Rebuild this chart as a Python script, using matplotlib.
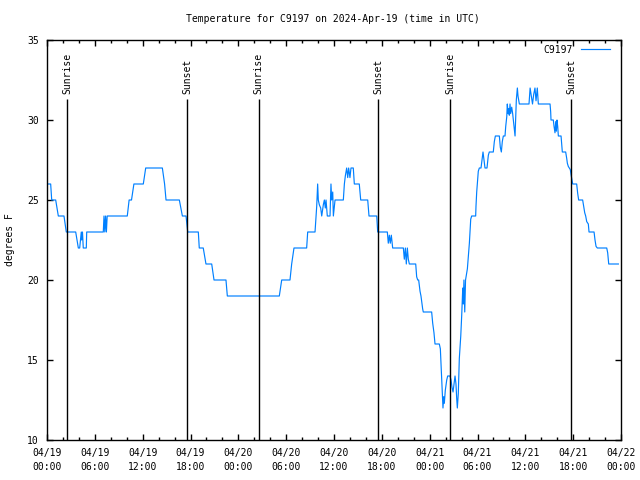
import datetime as dt
import matplotlib
matplotlib.use('Agg')
import matplotlib.pyplot as plt
import matplotlib.dates as mdates

start = dt.datetime(2024, 4, 19)

# hours after 04/19 00:00 UTC and temperature (deg F)
day1_hours = [0.0, 0.46, 0.59, 1.09, 1.42, 2.13, 2.42, 3.6, 3.93, 4.1, 4.3, 4.35,
              4.45, 4.55, 4.93, 4.98, 7.06, 7.15, 7.25, 7.35, 7.45, 7.55, 7.9,
              10.07, 10.3, 10.6, 10.9, 12.08, 12.38, 14.47, 14.75, 14.93, 16.6,
              16.98, 17.44, 17.65, 18.98, 19.1, 19.6, 19.94, 20.66, 20.95, 22.45,
              22.62]
day1_temps = [26, 26, 25, 25, 24, 24, 23, 23, 22, 22, 23, 22.5,
              23, 22, 22, 23, 23, 24, 23, 24, 23, 24, 24,
              24, 25, 25, 26, 26, 27, 27, 26, 25, 25,
              24, 24, 23, 23, 22, 22, 21, 21, 20, 20,
              19]

day2_hours = [29.14, 29.44, 30.48, 30.69, 30.98, 32.57, 32.7, 33.62, 33.83, 33.95,
              34.03, 34.16, 34.33, 34.46, 34.66, 34.79, 34.91, 35.0, 35.16, 35.5,
              35.62, 35.71, 35.84, 35.92, 36.13, 37.17, 37.3, 37.42, 37.59, 37.72,
              37.84, 38.0, 38.13, 38.42, 38.55, 39.17, 39.35, 40.23, 40.39, 41.36,
              41.48, 42.69, 42.81, 42.94, 43.06, 43.19, 43.36, 44.7, 44.82, 44.95,
              45.07, 45.2, 45.32, 45.45, 46.25, 46.37, 46.5, 46.62, 46.79, 46.91,
              47.12, 47.2]
day2_temps = [19, 20, 20, 21, 22, 22, 23, 23, 24.6, 26,
              25, 24.7, 24.5, 24, 24.7, 25, 24.5, 25, 24, 24,
              26, 25, 25.5, 24, 25, 25, 26, 26.5, 27, 26.4,
              27, 26.4, 27, 27, 26, 26, 25, 25, 24, 24,
              23, 23, 22.3, 22.8, 22.3, 22.8, 22, 22, 21.3, 22,
              21, 22, 21.3, 21, 21, 20.2, 20, 20, 19.3, 19,
              18.2, 18]

day3a_hours = [48.25, 48.38, 48.54, 48.67, 49.21, 49.34, 49.46, 49.59, 49.67, 49.76,
               49.84, 49.96, 50.14, 50.26, 50.55, 50.68, 50.8, 50.93, 51.05, 51.18,
               51.3, 51.39, 51.47, 51.59, 51.72, 51.9, 52.02, 52.15, 52.22, 52.3,
               52.4, 52.5, 52.73, 52.98, 53.15, 53.27, 53.77]
day3a_temps = [18, 17.3, 16.7, 16, 16, 15.7, 14.3, 12.9, 12, 12.7,
               12.3, 13.1, 13.75, 14, 14, 13.75, 13.3, 13, 13.5, 14,
               13.5, 12.6, 12, 12.9, 15.1, 16.5, 17.8, 19.5, 18.5, 20,
               18, 20, 20.7, 22.3, 23.8, 24, 24]

day3b_hours = [53.81, 53.9, 54.02, 54.1, 54.23, 54.44, 54.57, 54.69, 54.82, 54.94,
               55.19, 55.36, 55.48, 55.98, 56.11, 56.24, 56.74, 56.86, 56.99, 57.11,
               57.24, 57.45, 57.54, 57.67, 57.74, 57.83, 57.91, 57.99, 58.08, 58.16,
               58.29, 58.41, 58.54, 58.62, 58.71, 58.79, 58.87, 59.0, 59.08, 59.25,
               60.46, 60.6, 60.75, 60.9, 61.05, 61.21, 61.34, 61.5, 61.63, 63.1,
               63.18, 63.22, 63.51, 63.6, 63.72, 63.81, 63.89, 63.97, 64.06, 64.14,
               64.48, 64.56, 64.64, 65.06, 65.19, 65.27, 65.39, 65.52, 65.64, 65.73,
               65.86, 65.94, 66.44, 66.57, 66.69, 67.19, 67.32, 67.45, 67.57, 67.7,
               67.9, 67.99, 68.62, 68.74, 68.87, 69.03, 70.21, 70.33, 70.46, 71.67]
day3b_temps = [24.6, 25.5, 26.25, 26.8, 27, 27, 27.5, 28, 27.5, 27,
               27, 27.8, 28, 28, 28.65, 29, 29, 28.3, 28, 28.65,
               29, 29, 29.6, 30.2, 31, 30.4, 30.7, 30.3, 31, 30.4,
               30.8, 30.4, 29.8, 29.4, 29, 30.2, 31.25, 32, 31.5, 31,
               31, 32, 31.5, 31, 31.6, 32, 31.2, 32, 31, 31,
               30.5, 30, 30, 29.6, 29.2, 29.9, 29.3, 30, 29.6, 29,
               29, 28.5, 28, 28, 27.6, 27.3, 27.1, 27, 26.9, 26.6,
               26.25, 26, 26, 25.4, 25, 25, 24.6, 24.2, 24, 23.65,
               23.5, 23, 23, 22.5, 22.1, 22, 22, 21.7, 21, 21]

sunrise_hours = [2.55, 26.55, 50.6]
sunset_hours = [17.6, 41.58, 65.77]

hours = day1_hours + day2_hours + day3a_hours + day3b_hours
temps = day1_temps + day2_temps + day3a_temps + day3b_temps
times = [start + dt.timedelta(hours=h) for h in hours]

plt.rcParams['font.family'] = 'DejaVu Sans Mono'
plt.rcParams['font.size'] = 7

fig = plt.figure(figsize=(6.4, 4.8), dpi=100)
ax = fig.add_axes([47 / 640, 40 / 480, 574 / 640, 400 / 480])

ax.plot(times, temps, color='#0080ff', lw=0.85, label='C9197')

for h in sunrise_hours:
    t = start + dt.timedelta(hours=h)
    ax.vlines(t, 10, 31.3, color='black', lw=1.0)
    ax.text(t, 31.65, 'Sunrise', rotation=90, ha='center', va='bottom')
for h in sunset_hours:
    t = start + dt.timedelta(hours=h)
    ax.vlines(t, 10, 31.3, color='black', lw=1.0)
    ax.text(t, 31.65, 'Sunset', rotation=90, ha='center', va='bottom')

ax.set_xlim(start, start + dt.timedelta(days=3))
ax.set_ylim(10, 35)
ax.set_yticks(range(10, 36, 5))
ax.xaxis.set_major_locator(mdates.HourLocator(byhour=range(0, 24, 6)))
ax.xaxis.set_minor_locator(mdates.HourLocator(byhour=range(0, 24, 2)))
ax.xaxis.set_major_formatter(mdates.DateFormatter('%m/%d\n%H:%M'))

ax.tick_params(which='both', direction='in', top=True, right=True, width=1)
ax.tick_params(which='major', length=4.5, pad=6)
ax.tick_params(which='minor', length=2.5)
for lbl in ax.get_xticklabels():
    lbl.set_linespacing(1.5)
for s in ax.spines.values():
    s.set_linewidth(1)

fig.text(0.52, 0.96, 'Temperature for C9197 on 2024-Apr-19 (time in UTC)',
         ha='center', va='center')
fig.text(10 / 640, 0.5, 'degrees F', rotation=90, ha='center', va='center')

ax.legend(loc='upper right', bbox_to_anchor=(1 - 6 / 574, 1), frameon=False,
          markerfirst=False, handlelength=3.0, handletextpad=0.8,
          borderaxespad=0.2, borderpad=0.3)

plt.savefig('out.png', dpi=100)
